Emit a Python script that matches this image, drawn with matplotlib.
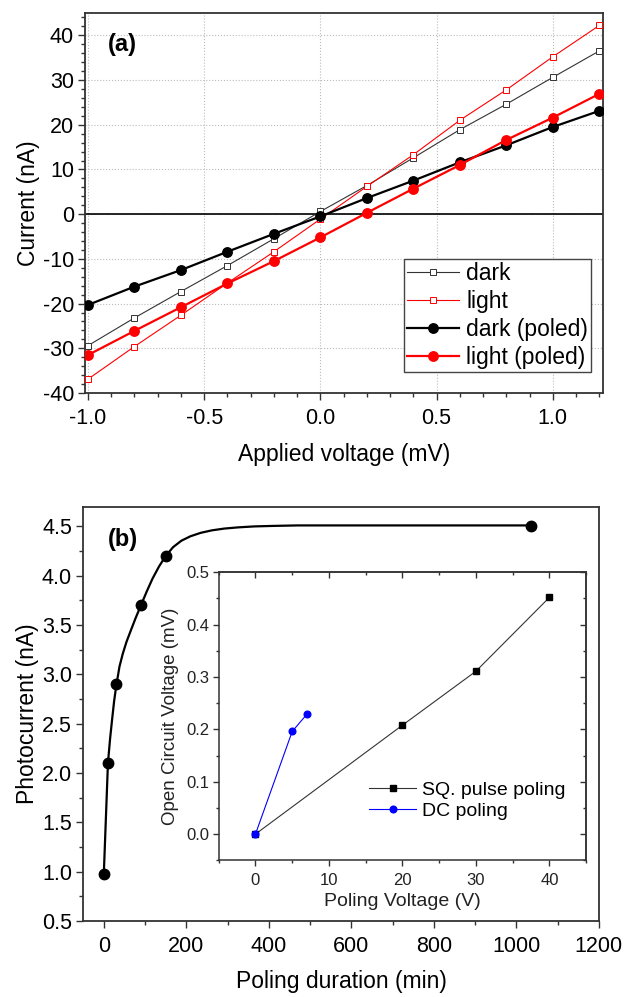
import matplotlib.pyplot as plt
from matplotlib.ticker import MultipleLocator

plt.rcParams["font.family"] = ["Liberation Sans", "DejaVu Sans"]
plt.rcParams["axes.unicode_minus"] = False

# (a) I-V curves
voltage = [-1.0, -0.8, -0.6, -0.4, -0.2, 0.0, 0.2, 0.4, 0.6, 0.8, 1.0, 1.2]
dark = [-29.4, -23.2, -17.3, -11.5, -5.5, 0.6, 6.4, 12.6, 18.9, 24.6, 30.6, 36.5]
light = [-36.9, -29.6, -22.6, -15.4, -8.4, -1.1, 6.2, 13.3, 21.0, 27.8, 35.2, 42.2]
dark_poled = [-20.3, -16.2, -12.5, -8.4, -4.4, -0.5, 3.6, 7.5, 11.6, 15.4, 19.5, 23.1]
light_poled = [-31.5, -26.1, -20.8, -15.5, -10.5, -5.2, 0.3, 5.7, 11.0, 16.6, 21.6, 26.9]

# (b) photocurrent vs poling duration
duration = [0, 10, 30, 90, 150, 1035]
photocurrent = [0.98, 2.1, 2.9, 3.7, 4.2, 4.5]
# fitted curve
fit_duration = [0, 10, 15, 20, 25, 30, 38, 46, 55, 65, 77, 90, 104, 118, 134, 150,
                168, 188, 210, 235, 262, 292, 325, 365, 410, 470, 600, 1035]
fit_current = [0.98, 2.10, 2.34, 2.54, 2.73, 2.88, 3.08, 3.21, 3.33, 3.44, 3.57,
               3.70, 3.84, 3.97, 4.095, 4.20, 4.29, 4.355, 4.40, 4.435, 4.46,
               4.478, 4.49, 4.50, 4.505, 4.51, 4.51, 4.51]

# inset: open circuit voltage vs poling voltage
sq_voltage = [0, 20, 30, 40]
sq_voc = [0.0, 0.208, 0.311, 0.452]
dc_voltage = [0, 5, 7]
dc_voc = [0.0, 0.196, 0.229]

fig = plt.figure(figsize=(6.26, 9.97), dpi=100)


def style_spines(ax, color="#333333", lw=1.3):
    for s in ax.spines.values():
        s.set_color(color)
        s.set_linewidth(lw)


# ---- panel (a) ----
ax1 = fig.add_axes([0.1361, 0.6058, 0.8275, 0.3812])
ax1.axhline(0, color="black", lw=1.2, zorder=2)
ax1.plot(voltage, dark, color="#333333", lw=0.8, marker="s", ms=3.8,
         mfc="white", mec="#333333", mew=0.7, label="dark", zorder=3)
ax1.plot(voltage, light, color="red", lw=0.8, marker="s", ms=3.8,
         mfc="white", mec="red", mew=0.7, label="light", zorder=3)
ax1.plot(voltage, dark_poled, color="black", lw=1.6, marker="o", ms=6.8,
         label="dark (poled)", zorder=4)
ax1.plot(voltage, light_poled, color="red", lw=1.6, marker="o", ms=6.8,
         label="light (poled)", zorder=5)

ax1.set_xlim(-1.012, 1.217)
ax1.set_ylim(-40, 45)
ax1.xaxis.set_major_locator(MultipleLocator(0.5))
ax1.xaxis.set_minor_locator(MultipleLocator(0.1))
ax1.yaxis.set_major_locator(MultipleLocator(10))
ax1.yaxis.set_minor_locator(MultipleLocator(2))
ax1.grid(True, which="major", ls=":", color="#bbbbbb", lw=0.8, zorder=0)
ax1.tick_params(which="both", direction="out", top=False, right=False,
                labelsize=15.5, width=1, color="#333333")
ax1.tick_params(which="major", length=5)
ax1.tick_params(which="minor", length=3)
ax1.tick_params(axis="x", pad=6)
ax1.tick_params(axis="y", pad=3)
style_spines(ax1)
ax1.set_xlabel("Applied voltage (mV)", fontsize=16.5, labelpad=10)
ax1.set_ylabel("Current (nA)", fontsize=16.5, labelpad=2)
ax1.text(0.071, 0.916, "(a)", transform=ax1.transAxes, fontsize=17,
         fontweight="bold", ha="center", va="center")

leg = ax1.legend(loc="upper left", bbox_to_anchor=(0.6155, 0.3526),
                 borderaxespad=0, fontsize=16.5, handlelength=2.3,
                 handletextpad=0.3, labelspacing=0.22, borderpad=0.12,
                 fancybox=False, framealpha=1, edgecolor="#444444")
leg.get_frame().set_linewidth(1.0)

# ---- panel (b) ----
ax2 = fig.add_axes([0.1329, 0.0762, 0.8236, 0.4156])
ax2.plot(fit_duration, fit_current, color="black", lw=1.6, zorder=2)
ax2.plot(duration, photocurrent, "o", color="black", ms=7.5, zorder=3)
ax2.set_xlim(-50, 1200)
ax2.set_ylim(0.5, 4.7)
ax2.xaxis.set_major_locator(MultipleLocator(200))
ax2.xaxis.set_minor_locator(MultipleLocator(100))
ax2.yaxis.set_major_locator(MultipleLocator(0.5))
ax2.yaxis.set_minor_locator(MultipleLocator(0.25))
ax2.tick_params(which="both", direction="out", top=False, right=False,
                labelsize=15.5, width=1, color="#333333")
ax2.tick_params(which="major", length=5)
ax2.tick_params(which="minor", length=3)
ax2.tick_params(axis="x", pad=6)
ax2.tick_params(axis="y", pad=3)
style_spines(ax2)
ax2.set_xlabel("Poling duration (min)", fontsize=16.5, labelpad=9)
ax2.set_ylabel("Photocurrent (nA)", fontsize=16.5, labelpad=2)
ax2.text(0.077, 0.92, "(b)", transform=ax2.transAxes, fontsize=17,
         fontweight="bold", ha="center", va="center")

# ---- inset ----
ax3 = fig.add_axes([0.3494, 0.1371, 0.5869, 0.2889])
ax3.plot(sq_voltage, sq_voc, color="#333333", lw=0.8, marker="s", ms=4.5,
         mfc="black", mec="black", label="SQ. pulse poling")
ax3.plot(dc_voltage, dc_voc, color="blue", lw=0.8, marker="o", ms=4.8,
         mfc="blue", mec="blue", label="DC poling")
ax3.set_xlim(-5, 45)
ax3.set_ylim(-0.05, 0.5)
ax3.xaxis.set_major_locator(MultipleLocator(10))
ax3.xaxis.set_minor_locator(MultipleLocator(5))
ax3.yaxis.set_major_locator(MultipleLocator(0.1))
ax3.yaxis.set_minor_locator(MultipleLocator(0.05))
ax3.tick_params(which="both", direction="out", labelsize=12, width=1,
                color="#333333", labelcolor="#222222")
ax3.tick_params(which="major", length=4)
ax3.tick_params(which="minor", length=2.5)
ax3.tick_params(axis="x", pad=5)
ax3.tick_params(axis="y", pad=3)
style_spines(ax3, lw=1.1)

# mirrored ticks pointing inward on top and right
top = ax3.secondary_xaxis("top")
top.xaxis.set_major_locator(MultipleLocator(10))
top.xaxis.set_minor_locator(MultipleLocator(5))
top.tick_params(which="both", direction="in", labeltop=False, width=1,
                color="#333333")
top.tick_params(which="major", length=4)
top.tick_params(which="minor", length=2.5)
top.spines["top"].set_linewidth(1.1)
top.spines["top"].set_color("#333333")
right = ax3.secondary_yaxis("right")
right.yaxis.set_major_locator(MultipleLocator(0.1))
right.yaxis.set_minor_locator(MultipleLocator(0.05))
right.tick_params(which="both", direction="in", labelright=False, width=1,
                  color="#333333")
right.tick_params(which="major", length=4)
right.tick_params(which="minor", length=2.5)
right.spines["right"].set_linewidth(1.1)
right.spines["right"].set_color("#333333")

ax3.set_xlabel("Poling Voltage (V)", fontsize=14, labelpad=4, color="#222222")
ax3.set_ylabel("Open Circuit Voltage (mV)", fontsize=13.5, labelpad=5,
               color="#222222")
ax3.legend(loc="upper left", bbox_to_anchor=(0.41, 0.275), borderaxespad=0,
           borderpad=0, frameon=False, fontsize=14, handlelength=2.4,
           handletextpad=0.3, labelspacing=0.2)

fig.savefig("out.png", dpi=100)
